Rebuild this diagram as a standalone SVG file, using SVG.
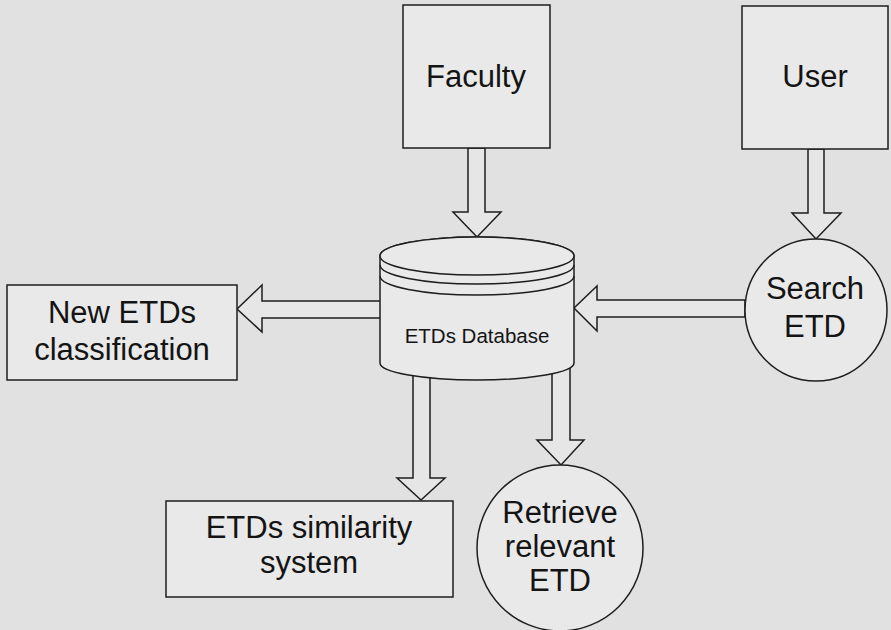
<svg xmlns="http://www.w3.org/2000/svg" width="891" height="630" viewBox="0 0 891 630">
<style>
.shape{fill:#e9e9e9;stroke:#1e1e1e;stroke-width:1.5}
.arrow{fill:#e6e6e6;stroke:#1e1e1e;stroke-width:1.5;stroke-linejoin:miter}
.line{fill:none;stroke:#1e1e1e;stroke-width:1.5}
.lbl{font-family:"Liberation Sans",Arial,sans-serif;font-size:31px;fill:#141414;text-anchor:middle}
.small{font-size:20.5px}
</style>
<rect x="0" y="0" width="891" height="630" fill="#e1e1e1"/>
<g id="connectors">
<polygon class="arrow" points="468,148 468,212 453,212 477,237 501,212 485,212 485,148"/>
<polygon class="arrow" points="808,149 808,213 792,213 816,239 841,213 824,213 824,149"/>
<polygon class="arrow" points="392,301 262,301 262,285 237,309 262,332 262,318 392,318"/>
<polygon class="arrow" points="745,300 597,300 597,286 574,308 597,331 597,317 745,317"/>
<polygon class="arrow" points="413,368 413,478 397,478 421,500 445,478 430,478 430,368"/>
<polygon class="arrow" points="552,360 552,440 537,440 561,465 584,440 570,440 570,360"/>
</g>
<g id="faculty">
<rect class="shape" x="403" y="5" width="147" height="143"/>
<text class="lbl" x="476" y="87">Faculty</text>
</g>
<g id="user">
<rect class="shape" x="742" y="6" width="146" height="143"/>
<text class="lbl" x="815" y="87">User</text>
</g>
<g id="database">
<path class="shape" d="M380,256 L380,363 A97,17 0 0 0 574,363 L574,256 A97,19 0 0 0 380,256 Z"/>
<ellipse class="shape" cx="477" cy="256" rx="97" ry="19"/>
<path class="line" d="M380,265 A97,19 0 0 0 574,265"/>
<path class="line" d="M380,276 A97,19 0 0 0 574,276"/>
<text class="lbl small" x="477" y="343">ETDs Database</text>
</g>
<g id="new-etds">
<rect class="shape" x="7" y="285" width="230" height="95"/>
<text class="lbl" x="122" y="323">New ETDs</text>
<text class="lbl" x="122" y="360">classification</text>
</g>
<g id="search-etd">
<circle class="shape" cx="816" cy="310" r="71"/>
<text class="lbl" x="815" y="299">Search</text>
<text class="lbl" x="815" y="337">ETD</text>
</g>
<g id="similarity">
<rect class="shape" x="166" y="501" width="287" height="96"/>
<text class="lbl" x="309" y="538">ETDs similarity</text>
<text class="lbl" x="309" y="573">system</text>
</g>
<g id="retrieve">
<circle class="shape" cx="560" cy="548" r="83"/>
<text class="lbl" x="560" y="523">Retrieve</text>
<text class="lbl" x="560" y="557">relevant</text>
<text class="lbl" x="560" y="591">ETD</text>
</g>
</svg>
